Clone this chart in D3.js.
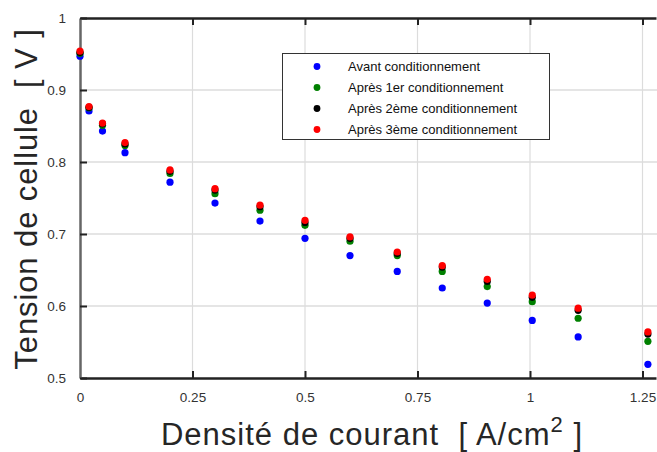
<!DOCTYPE html>
<html><head><meta charset="utf-8">
<script src="https://cdn.jsdelivr.net/npm/d3@7/dist/d3.min.js"></script>
<style>body{margin:0;background:#fff}svg{display:block}text{font-family:"Liberation Sans",Arial,sans-serif;white-space:pre}</style>
</head><body>
<svg id="c" width="657" height="452"></svg>
<script>
const currents = [0, 0.02, 0.05, 0.1, 0.2, 0.3, 0.4, 0.5, 0.6, 0.705, 0.805, 0.905, 1.005, 1.107, 1.262];
const avant   = [0.947, 0.871, 0.843, 0.813, 0.772, 0.743, 0.718, 0.694, 0.670, 0.648, 0.625, 0.604, 0.580, 0.557, 0.519];
const apres1  = [0.951, 0.875, 0.851, 0.823, 0.784, 0.756, 0.733, 0.712, 0.690, 0.670, 0.648, 0.627, 0.606, 0.583, 0.551];
const apres2  = [0.952, 0.876, 0.853, 0.825, 0.787, 0.761, 0.738, 0.716, 0.694, 0.673, 0.654, 0.634, 0.612, 0.594, 0.561];
const apres3  = [0.954, 0.877, 0.854, 0.827, 0.789, 0.763, 0.740, 0.719, 0.696, 0.675, 0.656, 0.637, 0.615, 0.597, 0.564];
const seriesNames = ["Avant conditionnement", "Après 1er conditionnement", "Après 2ème conditionnement", "Après 3ème conditionnement"];
const seriesColors = ["#0000ff", "#008000", "#000000", "#ff0000"];
const xTicks = [0, 0.25, 0.5, 0.75, 1, 1.25];
const yTicks = [0.5, 0.6, 0.7, 0.8, 0.9, 1];

const series = [avant, apres1, apres2, apres3];
const svg = d3.select("#c");
const L = 80, T = 18, B = 378, R = 657;
const x = d3.scaleLinear().domain([0, 1.28]).range([L, L + 1.28 * 450]);
const y = d3.scaleLinear().domain([0.5, 1]).range([B, T]);

// grid
svg.append("g").selectAll("line").data(xTicks.slice(1)).join("line")
  .attr("x1", d => x(d)).attr("x2", d => x(d)).attr("y1", T).attr("y2", B)
  .attr("stroke", "#dcdcdc").attr("stroke-width", 1.2);
svg.append("g").selectAll("line").data(yTicks.slice(1, -1)).join("line")
  .attr("x1", L).attr("x2", R).attr("y1", d => y(d)).attr("y2", d => y(d))
  .attr("stroke", "#dcdcdc").attr("stroke-width", 1.5);

// axes
const xb = svg.append("g").attr("transform", `translate(0,${B})`)
  .call(d3.axisBottom(x).tickValues(xTicks).tickSizeInner(-7).tickSizeOuter(0).tickPadding(14).tickFormat(d3.format("~g")));
const xt = svg.append("g").attr("transform", `translate(0,${T})`)
  .call(d3.axisTop(x).tickValues(xTicks).tickSizeInner(-7).tickSizeOuter(0).tickFormat(""));
const yl = svg.append("g").attr("transform", `translate(${L},0)`)
  .call(d3.axisLeft(y).tickValues(yTicks).tickSizeInner(-7).tickSizeOuter(0).tickPadding(14).tickFormat(d3.format("~g")));
[xb, xt].forEach(g => {
  g.select(".domain").attr("stroke", "#222").attr("stroke-width", 2.5);
  g.selectAll(".tick line").attr("stroke", "#222").attr("stroke-width", 2);
});
yl.select(".domain").attr("stroke", "#666").attr("stroke-width", 2.5);
yl.selectAll(".tick line").attr("stroke", "#222").attr("stroke-width", 2);
xb.selectAll(".tick text").attr("font-size", 13.5).attr("fill", "#333");
yl.selectAll(".tick text").attr("font-size", 13.5).attr("fill", "#333");
xt.selectAll(".tick").filter(d => d === 0).remove();
xb.selectAll(".tick line").filter(d => d === 0).remove();

// points
series.forEach((vals, i) => {
  svg.append("g").selectAll("circle").data(vals).join("circle")
    .attr("cx", (d, j) => x(currents[j])).attr("cy", d => y(d))
    .attr("r", 3.6).attr("fill", seriesColors[i]);
});

// legend
const lg = svg.append("g");
lg.append("rect").attr("x", 282.5).attr("y", 53.5).attr("width", 267).attr("height", 86)
  .attr("fill", "#fff").attr("stroke", "#333").attr("stroke-width", 1);
seriesNames.forEach((n, i) => {
  const cy = 66.5 + i * 21;
  lg.append("circle").attr("cx", 317).attr("cy", cy).attr("r", 3.4).attr("fill", seriesColors[i]);
  lg.append("text").attr("x", 348).attr("y", cy + 4.5).attr("font-size", 13).attr("fill", "#111").text(n);
});

// titles
svg.append("text").attr("transform", "translate(37,199) rotate(-90)").attr("text-anchor", "middle")
  .attr("font-size", 31).attr("letter-spacing", 0.9).attr("fill", "#262626").text("Tension de cellule  [ V ]");
const xtit = svg.append("text").attr("x", 372).attr("y", 445).attr("text-anchor", "middle")
  .attr("font-size", 31).attr("letter-spacing", 1).attr("fill", "#262626");
xtit.append("tspan").text("Densité de courant  [ A/cm");
xtit.append("tspan").attr("dy", -13).attr("font-size", 22).text("2");
xtit.append("tspan").attr("dy", 13).text(" ]");
</script>
</body></html>
